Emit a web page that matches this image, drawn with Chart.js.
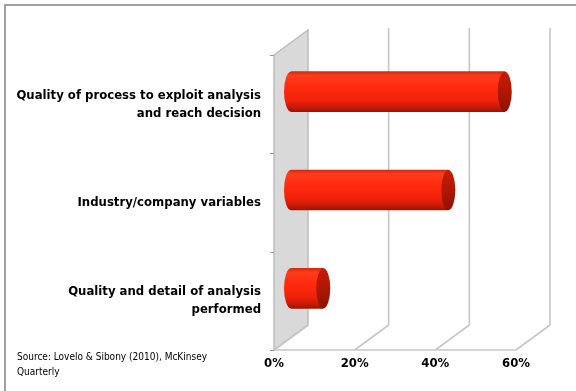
<!DOCTYPE html>
<html>
<head>
<meta charset="utf-8">
<script src="https://cdn.jsdelivr.net/npm/chart.js@4.4.1/dist/chart.umd.min.js"></script>
<style>
body{margin:0;background:#fff;}
canvas{display:block;}
</style>
</head>
<body>
<canvas id="chart" width="576" height="391"></canvas>
<script>
// data
const categories = [
['Quality of process to exploit analysis', 'and reach decision'],
'Industry/company variables',
['Quality and detail of analysis', 'performed']
];
const shares = [53, 39, 8];
const tickValues = [0, 20, 40, 60];
const sourceNote = ['Source: Lovelo & Sibony (2010), McKinsey', 'Quarterly'];

// depth of the fake 3d box
const DEPTH_X = 34, DEPTH_Y = -25;
const narrow = "'DejaVu Sans Condensed', 'Liberation Sans Narrow', sans-serif";

const barGradient = (ctx, top, bottom) => {
const g = ctx.createLinearGradient(0, top, 0, bottom);
g.addColorStop(0, '#d42a0c');
g.addColorStop(0.1, '#ff3c1c');
g.addColorStop(0.4, '#ff2a0e');
g.addColorStop(0.72, '#f0220a');
g.addColorStop(0.9, '#c41a06');
g.addColorStop(1, '#9c1404');
return g;
};

const box3d = {
id: 'box3d',
beforeDraw(chart) {
const {ctx} = chart;
ctx.save();
ctx.strokeStyle = '#a0a0a0';
ctx.lineWidth = 2;
ctx.beginPath();
ctx.moveTo(5, 391); ctx.lineTo(5, 5); ctx.lineTo(576, 5);
ctx.stroke();
ctx.restore();
},
beforeDatasetsDraw(chart) {
const {ctx, chartArea} = chart;
const xs = chart.scales.x;
const x0 = xs.getPixelForValue(0);
const top = chartArea.top, bottom = chartArea.bottom;

ctx.save();
// left wall
ctx.beginPath();
ctx.moveTo(x0, top);
ctx.lineTo(x0 + DEPTH_X, top + DEPTH_Y);
ctx.lineTo(x0 + DEPTH_X, bottom + DEPTH_Y);
ctx.lineTo(x0, bottom);
ctx.closePath();
ctx.fillStyle = '#d9d9d9';
ctx.fill();
ctx.strokeStyle = '#bcbcbc';
ctx.lineWidth = 1.5;
ctx.stroke();

// back wall grid + floor
ctx.strokeStyle = '#c6c6c6';
ctx.lineWidth = 1.6;
tickValues.forEach(v => {
const x = xs.getPixelForValue(v);
ctx.beginPath();
if (v > 0) {
ctx.moveTo(x + DEPTH_X, top + DEPTH_Y - 2);
ctx.lineTo(x + DEPTH_X, bottom + DEPTH_Y);
}
ctx.moveTo(x + DEPTH_X, bottom + DEPTH_Y);
ctx.lineTo(x, bottom);
ctx.stroke();
});
ctx.beginPath();
ctx.moveTo(x0, bottom);
ctx.lineTo(xs.getPixelForValue(tickValues[tickValues.length - 1]), bottom);
ctx.stroke();

// little ticks on the category axis
const ys = chart.scales.y;
ctx.strokeStyle = '#9a9a9a';
ctx.lineWidth = 1;
const band = Math.abs(ys.getPixelForValue(1) - ys.getPixelForValue(0));
for (let i = 0; i <= categories.length; i++) {
const y = Math.round(ys.getPixelForValue(0) - band / 2 + i * band) + 0.5;
ctx.beginPath();
ctx.moveTo(x0 - 4, y);
ctx.lineTo(x0, y);
ctx.stroke();
}
ctx.restore();

// bars sit halfway into the box
ctx.save();
ctx.translate(DEPTH_X / 2, DEPTH_Y / 2);
},
afterDatasetsDraw(chart) {
const {ctx} = chart;
ctx.restore();
const meta = chart.getDatasetMeta(0);
ctx.save();
ctx.translate(DEPTH_X / 2, DEPTH_Y / 2);
meta.data.forEach(bar => {
const h = bar.height / 2;
const top = bar.y - h, bottom = bar.y + h;
// rounded back end
ctx.beginPath();
ctx.ellipse(bar.base, bar.y, 7, h, 0, Math.PI / 2, Math.PI * 1.5);
ctx.closePath();
ctx.fillStyle = barGradient(ctx, top, bottom);
ctx.fill();
// front cap
ctx.beginPath();
ctx.ellipse(bar.x, bar.y, 7, h, 0, 0, Math.PI * 2);
const cg = ctx.createLinearGradient(0, top, 0, bottom);
cg.addColorStop(0, '#c41c06');
cg.addColorStop(0.5, '#b01804');
cg.addColorStop(1, '#8c1202');
ctx.fillStyle = cg;
ctx.fill();
});
ctx.restore();
},
afterDraw(chart) {
const {ctx} = chart;
ctx.save();
ctx.fillStyle = '#000';
ctx.font = '10px ' + narrow;
ctx.textBaseline = 'middle';
ctx.fillText(sourceNote[0], 17, 357);
ctx.fillText(sourceNote[1], 17, 372);
ctx.restore();
}
};

new Chart(document.getElementById('chart'), {
type: 'bar',
data: {
labels: categories,
datasets: [{
data: shares,
barThickness: 40,
borderWidth: 0,
clip: false,
backgroundColor: c => {
const ys = c.chart.scales.y;
const y = ys && c.dataIndex !== undefined ? ys.getPixelForValue(c.dataIndex) : NaN;
if (!isFinite(y)) return '#ff2d10';
return barGradient(c.chart.ctx, y - 20, y + 20);
}
}]
},
plugins: [box3d],
options: {
indexAxis: 'y',
responsive: false,
animation: false,
layout: {padding: {top: 55, right: 60, left: 0, bottom: 0}},
plugins: {legend: {display: false}, tooltip: {enabled: false}},
scales: {
x: {
min: 0,
max: 60,
grid: {display: false, drawTicks: false},
border: {display: false},
afterBuildTicks: s => { s.ticks = tickValues.map(v => ({value: v})); },
afterFit: s => { s.height = 41; },
ticks: {
padding: 6,
color: '#000',
font: {family: narrow, size: 13, weight: 'bold'},
callback: v => v + '%'
}
},
y: {
grid: {display: false, drawTicks: false},
border: {display: false},
afterFit: s => { s.width = 274; },
ticks: {
padding: 13,
color: '#000',
font: {family: narrow, size: 13, weight: 'bold', lineHeight: 1.38}
}
}
}
}
});
</script>
</body>
</html>
